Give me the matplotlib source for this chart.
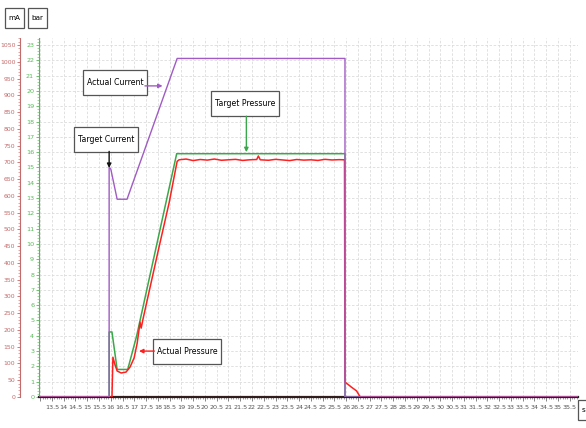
import matplotlib.pyplot as plt
import numpy as np
from matplotlib.patches import Rectangle
from matplotlib.transforms import ScaledTranslation
from matplotlib.ticker import MultipleLocator, FuncFormatter

# time axis (s)
t_min, t_max = 12.95, 35.85

# Actual Current (mA)
cur_t = [12.95, 15.93, 15.93, 16.0, 16.27, 16.69, 18.82, 25.95, 25.95, 35.85]
cur_v = [0, 0, 685, 680, 590, 590, 1010, 1010, 0, 0]

# Target Pressure (bar)
tp_t = [12.95, 15.93, 15.93, 16.05, 16.27, 16.72, 17.1, 18.8, 25.95, 25.95, 35.85]
tp_v = [0, 0, 4.25, 4.25, 1.8, 1.8, 4.0, 15.9, 15.9, 0, 0]

# Actual Pressure (bar)
ap_t = [12.95, 16.05, 16.09, 16.18, 16.27, 16.44, 16.65, 16.82, 16.99, 17.12,
        17.2, 17.24, 17.29, 17.37, 17.63, 18.05, 18.48, 18.73, 18.82, 18.9,
        19.2, 19.5, 19.8, 20.1, 20.4, 20.7, 21.0, 21.3, 21.6, 21.9,
        22.2, 22.27, 22.35, 22.7, 23.0, 23.3, 23.6, 23.9, 24.2, 24.5,
        24.8, 25.1, 25.4, 25.7, 25.93, 25.95, 26.22, 26.44, 26.6, 35.85]
ap_v = [0, 0, 2.6, 2.1, 1.7, 1.57, 1.63, 1.96, 2.55, 3.5,
        4.4, 4.9, 4.5, 5.1, 6.9, 9.8, 12.7, 14.7, 15.4, 15.5,
        15.55, 15.45, 15.52, 15.48, 15.55, 15.47, 15.5, 15.53, 15.46, 15.5,
        15.52, 15.75, 15.5, 15.47, 15.53, 15.49, 15.45, 15.52, 15.48, 15.5,
        15.46, 15.53, 15.49, 15.51, 15.5, 0.98, 0.65, 0.4, 0, 0]

ma_ticks = list(range(0, 1051, 50))
bar_ticks = list(range(0, 24))

# callout text: (label, text position, arrow start, arrow tip) in (s, bar)
callouts = [
    ('Actual Current', (16.18, 20.52), (17.45, 20.33), (18.2, 20.33)),
    ('Target Current', (15.80, 16.80), (15.93, 16.05), (15.93, 14.97)),
    ('Target Pressure', (21.71, 19.15), (21.76, 18.35), (21.76, 16.0)),
    ('Actual Pressure', (19.24, 3.0), (17.85, 3.0), (17.2, 3.0)),
]

col_cur = '#a15bc4'
col_tp = '#3aa84a'
col_ap = '#ff1f1f'
col_ma = '#c46a6a'
col_bar = '#58b858'
arrow_cols = [col_cur, '#111111', col_tp, col_ap]

fig = plt.figure(figsize=(5.86, 4.28), dpi=100)
ax = fig.add_axes([39 / 586, 31 / 428, 539 / 586, 359 / 428])
ax.set_xlim(t_min, t_max)
ax.set_ylim(0, 23.46)

ax2 = ax.twinx()
ax2.set_ylim(0, 1071)

# grid and ticks
ax.xaxis.set_major_locator(MultipleLocator(0.5))
ax.xaxis.set_minor_locator(MultipleLocator(0.1))
ax.xaxis.set_major_formatter(FuncFormatter(lambda v, p: '' if v < 13.25 else '%g' % v))
ax.set_yticks(bar_ticks)
ax.yaxis.set_minor_locator(MultipleLocator(0.2))
ax.grid(True, which='major', color='#dcdcdc', linestyle=(0, (3, 2)), linewidth=0.6)
ax.set_axisbelow(True)

for s in ['top', 'right']:
    ax.spines[s].set_visible(False)
    ax2.spines[s].set_visible(False)
ax2.spines['bottom'].set_visible(False)
ax.spines['left'].set_color(col_bar)
ax.spines['bottom'].set_color('#222222')
ax.spines['bottom'].set_linewidth(1.6)

ax.tick_params(axis='x', which='major', direction='out', length=3, width=0.5,
               labelsize=4.6, colors='#555555', pad=3)
ax.tick_params(axis='x', which='minor', direction='out', length=1.5, width=0.4, colors='#555555')
ax.tick_params(axis='y', which='major', direction='out', length=2.5, width=0.6,
               labelsize=4.6, colors=col_bar, pad=1)
ax.tick_params(axis='y', which='minor', direction='out', length=1.2, width=0.4, colors=col_bar)

# mA axis on the far left
ax2.yaxis.tick_left()
ax2.spines['left'].set_visible(True)
ax2.spines['left'].set_position(('outward', 13.5))
ax2.spines['left'].set_color(col_ma)
ax2.spines['left'].set_linestyle((0, (1, 1)))
ax2.set_yticks(ma_ticks)
ax2.yaxis.set_minor_locator(MultipleLocator(10))
ax2.tick_params(axis='y', which='major', direction='out', length=2.5, width=0.6,
                labelsize=4.4, colors=col_ma, pad=1, right=False, labelright=False)
ax2.tick_params(axis='y', which='minor', direction='out', length=1.2, width=0.4,
                colors=col_ma, right=False)

# series
ax.plot(tp_t, tp_v, color=col_tp, lw=1.1, zorder=3)
ax.plot(ap_t, ap_v, color=col_ap, lw=1.1, zorder=4)
ax2.plot(cur_t, cur_v, color=col_cur, lw=1.0, zorder=3)
ax.axhline(0, color='#7a1010', lw=1.0, zorder=5)


def boxed(text, anchor, trans, w_px, h_px, size, target):
    # white frame of fixed pixel size centred on anchor
    off = fig.dpi_scale_trans + ScaledTranslation(anchor[0], anchor[1], trans)
    w, h = w_px / fig.dpi, h_px / fig.dpi
    rect = Rectangle((-w / 2, -h / 2), w, h, transform=off, fc='white',
                     ec='#555555', lw=0.9, zorder=10, clip_on=False)
    if target is fig:
        fig.add_artist(rect)
    else:
        target.add_patch(rect)
    target.text(0, 0, text, transform=off, ha='center', va='center',
                fontsize=size, zorder=11, clip_on=False)


# callouts, drawn on the top axes so they sit above every line
fig.canvas.draw()
renderer = fig.canvas.get_renderer()
for (text, pos, start, tip), c in zip(callouts, arrow_cols):
    probe = fig.text(0, 0, text, fontsize=5.6)
    tw = probe.get_window_extent(renderer).width
    probe.remove()
    boxed(text, pos, ax.transData, tw + 8, 25, 5.6, ax2)
    s2 = ax2.transData.inverted().transform(ax.transData.transform(start))
    t2 = ax2.transData.inverted().transform(ax.transData.transform(tip))
    ax2.annotate('', xy=t2, xytext=s2, zorder=12,
                 arrowprops=dict(arrowstyle='-|>', color=c, lw=1.0,
                                 mutation_scale=6, shrinkA=0, shrinkB=0))

# unit boxes
boxed('mA', (14 / 586, 1 - 18 / 428), fig.transFigure, 19, 20, 5.2, fig)
boxed('bar', (37 / 586, 1 - 18 / 428), fig.transFigure, 19, 20, 5.2, fig)
boxed('s', (584 / 586, 1 - 410 / 428), fig.transFigure, 12, 20, 5.2, fig)

fig.savefig('out.png', dpi=100)
